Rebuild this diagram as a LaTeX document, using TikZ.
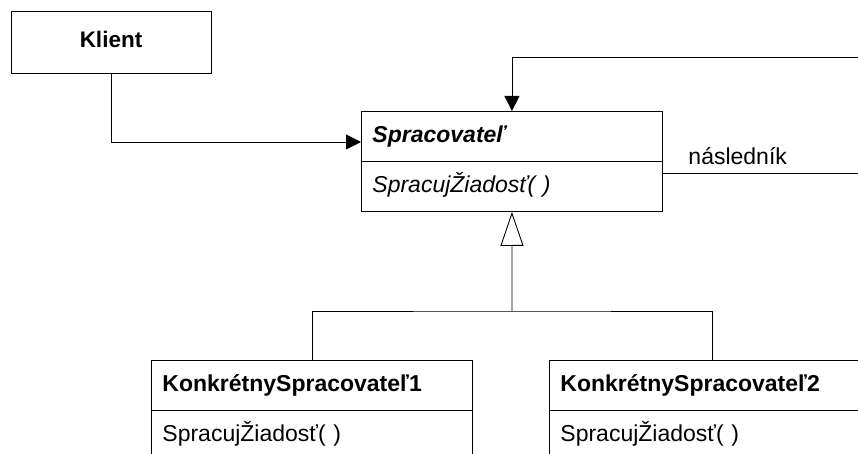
\documentclass[tikz,border=0pt]{standalone}
\usepackage{fontspec}
\setmainfont{Liberation Sans}
\usetikzlibrary{arrows.meta}
\begin{document}
\begin{tikzpicture}[x=1pt,y=-1pt,
  line width=0.9pt,
  txt/.style={font=\fontsize{23}{27}\selectfont},
  cls/.style={txt, draw, anchor=north west, minimum height=50pt, inner xsep=11pt, inner ysep=0pt,
    text height=16pt, text depth=4.5pt, align=left},
  arr/.style={-{Triangle[length=15pt,width=15pt]}},
  gen/.style={-{Triangle[open,length=34pt,width=23pt]}}
]
\useasboundingbox (0,0) rectangle (858,454);
\clip (0,0) rectangle (858,454);

% Klient
\node[txt, draw, minimum width=200pt, minimum height=62pt, inner sep=0pt, text height=16pt, text depth=4.5pt, font=\fontsize{22.5}{27}\selectfont\bfseries] (kl) at (111,42) {Klient};

% Spracovatel'
\node[cls, text width=279pt, minimum width=301pt, font=\fontsize{23}{27}\selectfont\bfseries\itshape] (sph) at (361,111) {Spracovateľ};
\node[cls, text width=279pt, minimum width=301pt, font=\fontsize{23}{27}\selectfont\itshape] (spm) at (361,161) {SpracujŽiadosť( )};

% Concrete handlers
\node[cls, text width=299pt, minimum width=321pt, font=\fontsize{23}{27}\selectfont\bfseries] (k1h) at (151,360) {KonkrétnySpracovateľ1};
\node[cls, text width=299pt, minimum width=321pt] (k1m) at (151,410) {SpracujŽiadosť( )};
\node[cls, text width=304pt, minimum width=326pt, font=\fontsize{23}{27}\selectfont\bfseries] (k2h) at (549,360) {KonkrétnySpracovateľ2};
\node[cls, text width=304pt, minimum width=326pt] (k2m) at (549,410) {SpracujŽiadosť( )};

% client association
\coordinate (in1) at (361,142);
\draw[arr] (kl.south) |- (in1);

% successor loop
\coordinate (s1) at (662,173);
\coordinate (s2) at (890,173);
\coordinate (s3) at (890,57);
\draw[arr] (s1) -- (s2) -- (s3) -| (sph.north);
\node[txt, anchor=base west, inner sep=0pt] (nas) at (688,165) {následník};

% generalization
\coordinate (g) at (512,311);
\draw (k1h.north) |- (g) -| (k2h.north);
\draw[gen] (g) -- (spm.south);
\end{tikzpicture}
\end{document}
